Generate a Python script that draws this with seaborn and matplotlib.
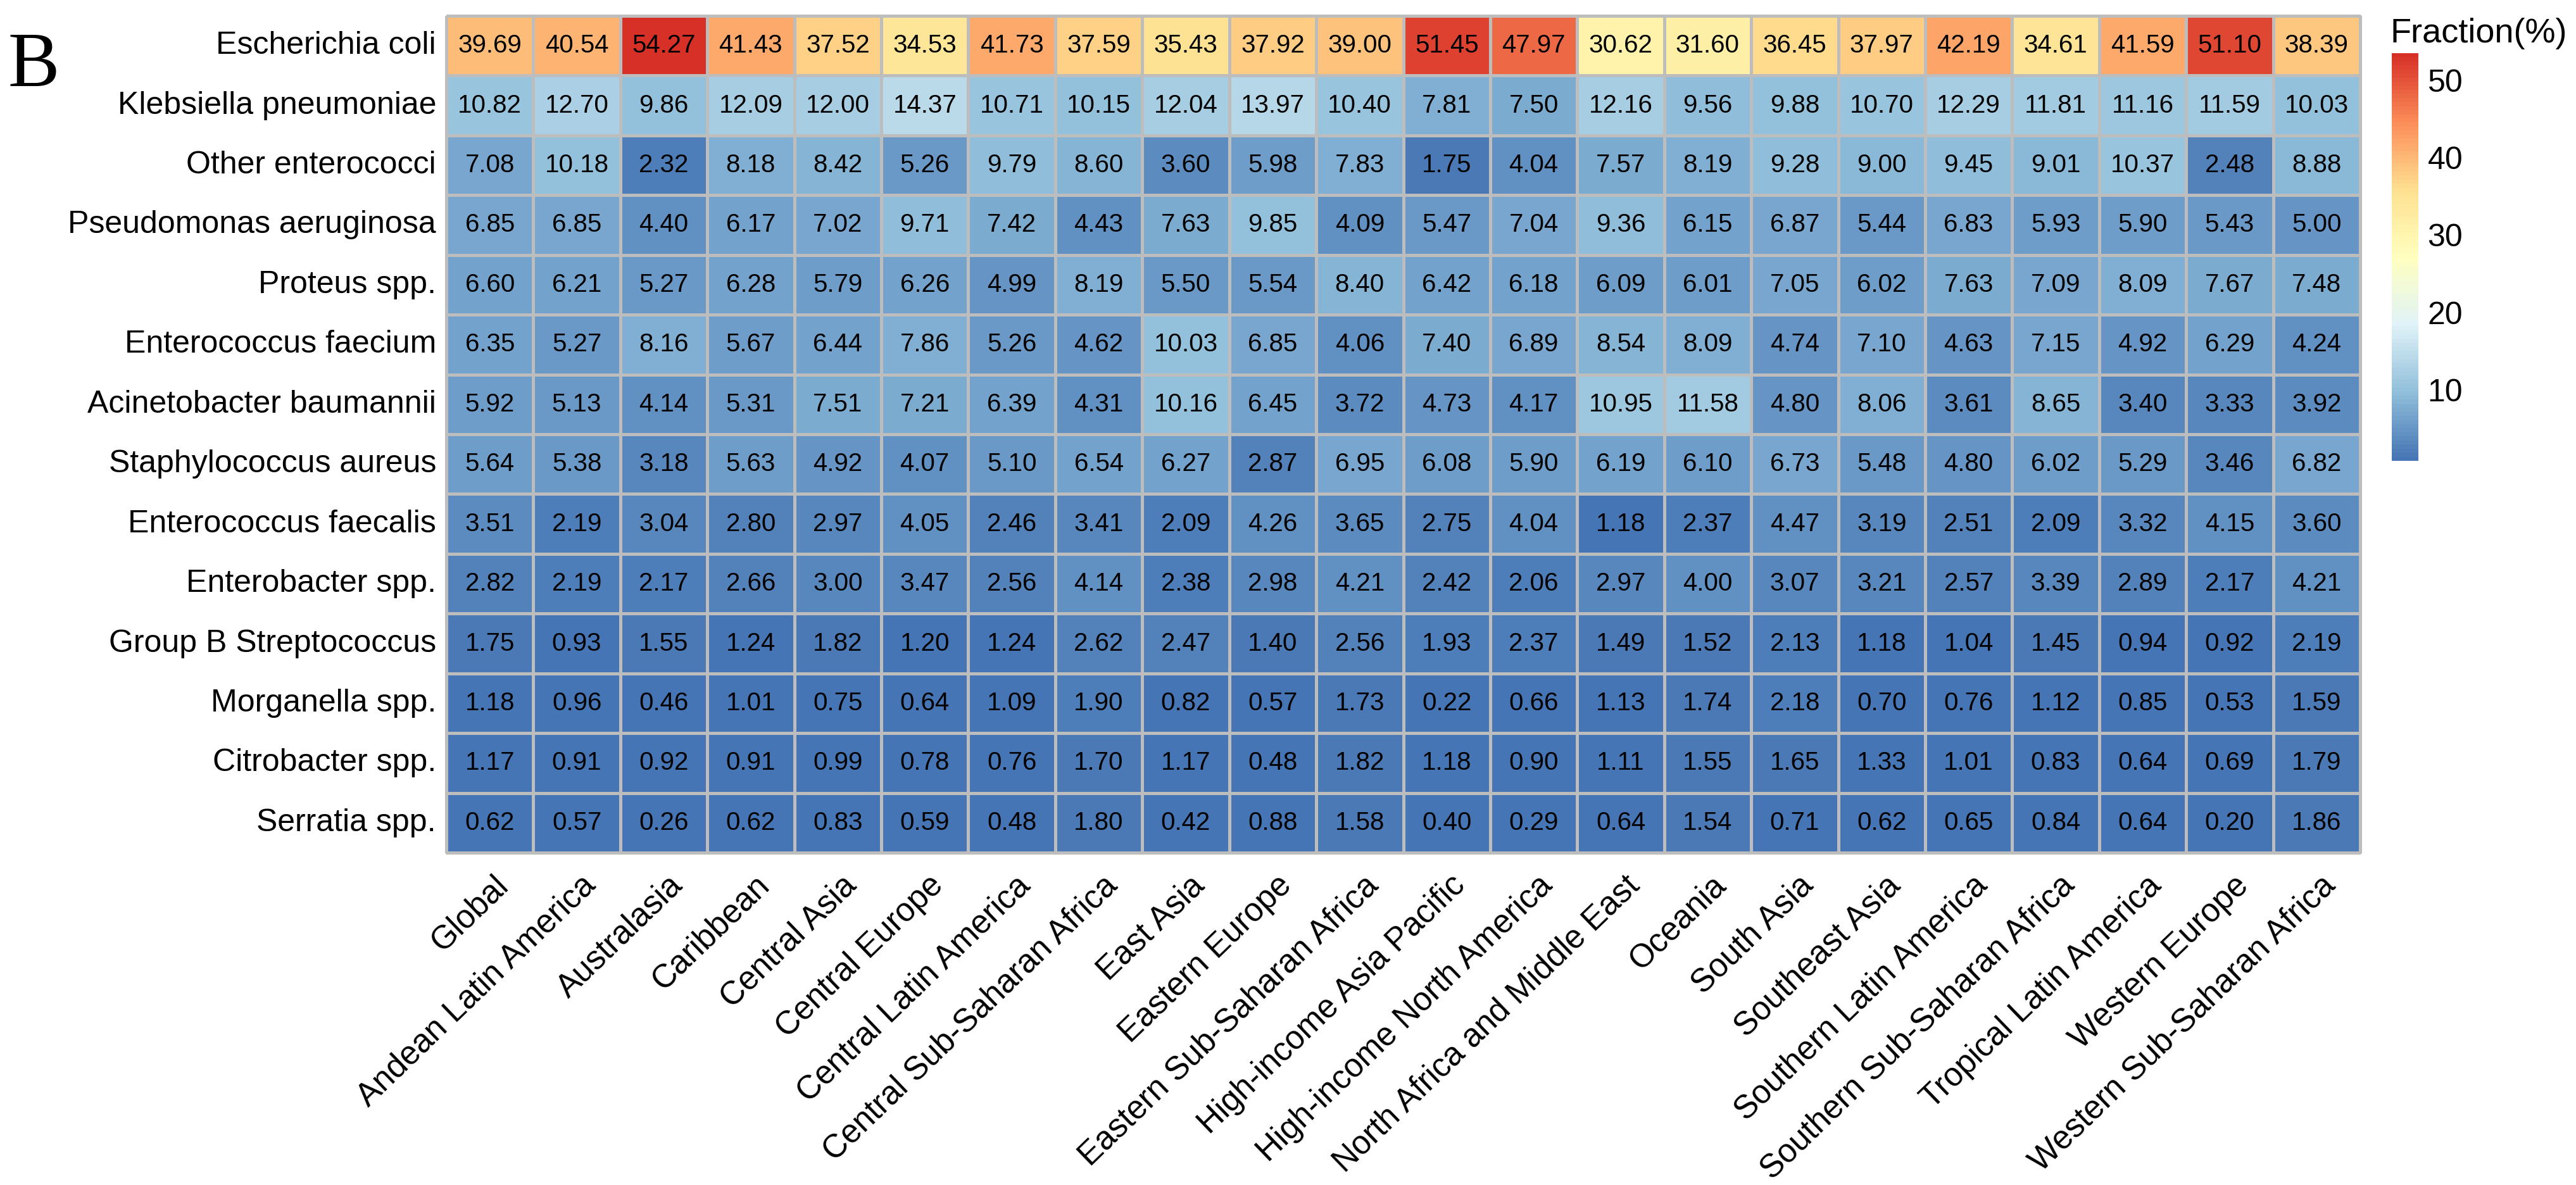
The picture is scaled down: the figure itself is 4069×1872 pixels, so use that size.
import numpy as np
import pandas as pd
import matplotlib
matplotlib.use('Agg')
import matplotlib.pyplot as plt
from matplotlib.colors import LinearSegmentedColormap
from matplotlib.transforms import ScaledTranslation
import seaborn as sns

# Data
regions = ['Global', 'Andean Latin America', 'Australasia', 'Caribbean', 'Central Asia',
           'Central Europe', 'Central Latin America', 'Central Sub-Saharan Africa', 'East Asia',
           'Eastern Europe', 'Eastern Sub-Saharan Africa', 'High-income Asia Pacific',
           'High-income North America', 'North Africa and Middle East', 'Oceania', 'South Asia',
           'Southeast Asia', 'Southern Latin America', 'Southern Sub-Saharan Africa',
           'Tropical Latin America', 'Western Europe', 'Western Sub-Saharan Africa']
pathogens = ['Escherichia coli', 'Klebsiella pneumoniae', 'Other enterococci',
             'Pseudomonas aeruginosa', 'Proteus spp.', 'Enterococcus faecium',
             'Acinetobacter baumannii', 'Staphylococcus aureus', 'Enterococcus faecalis',
             'Enterobacter spp.', 'Group B Streptococcus', 'Morganella spp.',
             'Citrobacter spp.', 'Serratia spp.']

e_coli = [39.69, 40.54, 54.27, 41.43, 37.52, 34.53, 41.73, 37.59, 35.43, 37.92, 39.00, 51.45, 47.97, 30.62, 31.60, 36.45, 37.97, 42.19, 34.61, 41.59, 51.10, 38.39]
klebsiella = [10.82, 12.70, 9.86, 12.09, 12.00, 14.37, 10.71, 10.15, 12.04, 13.97, 10.40, 7.81, 7.50, 12.16, 9.56, 9.88, 10.70, 12.29, 11.81, 11.16, 11.59, 10.03]
other_entero = [7.08, 10.18, 2.32, 8.18, 8.42, 5.26, 9.79, 8.60, 3.60, 5.98, 7.83, 1.75, 4.04, 7.57, 8.19, 9.28, 9.00, 9.45, 9.01, 10.37, 2.48, 8.88]
pseudomonas = [6.85, 6.85, 4.40, 6.17, 7.02, 9.71, 7.42, 4.43, 7.63, 9.85, 4.09, 5.47, 7.04, 9.36, 6.15, 6.87, 5.44, 6.83, 5.93, 5.90, 5.43, 5.00]
proteus = [6.60, 6.21, 5.27, 6.28, 5.79, 6.26, 4.99, 8.19, 5.50, 5.54, 8.40, 6.42, 6.18, 6.09, 6.01, 7.05, 6.02, 7.63, 7.09, 8.09, 7.67, 7.48]
e_faecium = [6.35, 5.27, 8.16, 5.67, 6.44, 7.86, 5.26, 4.62, 10.03, 6.85, 4.06, 7.40, 6.89, 8.54, 8.09, 4.74, 7.10, 4.63, 7.15, 4.92, 6.29, 4.24]
acinetobacter = [5.92, 5.13, 4.14, 5.31, 7.51, 7.21, 6.39, 4.31, 10.16, 6.45, 3.72, 4.73, 4.17, 10.95, 11.58, 4.80, 8.06, 3.61, 8.65, 3.40, 3.33, 3.92]
s_aureus = [5.64, 5.38, 3.18, 5.63, 4.92, 4.07, 5.10, 6.54, 6.27, 2.87, 6.95, 6.08, 5.90, 6.19, 6.10, 6.73, 5.48, 4.80, 6.02, 5.29, 3.46, 6.82]
e_faecalis = [3.51, 2.19, 3.04, 2.80, 2.97, 4.05, 2.46, 3.41, 2.09, 4.26, 3.65, 2.75, 4.04, 1.18, 2.37, 4.47, 3.19, 2.51, 2.09, 3.32, 4.15, 3.60]
enterobacter = [2.82, 2.19, 2.17, 2.66, 3.00, 3.47, 2.56, 4.14, 2.38, 2.98, 4.21, 2.42, 2.06, 2.97, 4.00, 3.07, 3.21, 2.57, 3.39, 2.89, 2.17, 4.21]
group_b = [1.75, 0.93, 1.55, 1.24, 1.82, 1.20, 1.24, 2.62, 2.47, 1.40, 2.56, 1.93, 2.37, 1.49, 1.52, 2.13, 1.18, 1.04, 1.45, 0.94, 0.92, 2.19]
morganella = [1.18, 0.96, 0.46, 1.01, 0.75, 0.64, 1.09, 1.90, 0.82, 0.57, 1.73, 0.22, 0.66, 1.13, 1.74, 2.18, 0.70, 0.76, 1.12, 0.85, 0.53, 1.59]
citrobacter = [1.17, 0.91, 0.92, 0.91, 0.99, 0.78, 0.76, 1.70, 1.17, 0.48, 1.82, 1.18, 0.90, 1.11, 1.55, 1.65, 1.33, 1.01, 0.83, 0.64, 0.69, 1.79]
serratia = [0.62, 0.57, 0.26, 0.62, 0.83, 0.59, 0.48, 1.80, 0.42, 0.88, 1.58, 0.40, 0.29, 0.64, 1.54, 0.71, 0.62, 0.65, 0.84, 0.64, 0.20, 1.86]

rows = [e_coli, klebsiella, other_entero, pseudomonas, proteus, e_faecium, acinetobacter,
        s_aureus, e_faecalis, enterobacter, group_b, morganella, citrobacter, serratia]
df = pd.DataFrame(rows, index=pathogens, columns=regions)

cbar_ticks = [10, 20, 30, 40, 50]

sns.set_style('white')
plt.rcParams['font.family'] = ['Liberation Sans', 'DejaVu Sans']

W, H = 4069, 1872
def px_axes(x0, y0, x1, y1):
    # pixel box (top-left origin) to figure fractions
    return [x0 / W, 1 - y1 / H, (x1 - x0) / W, (y1 - y0) / H]

fig = plt.figure(figsize=(W / 100, H / 100), dpi=100)
ax = fig.add_axes(px_axes(705, 25, 3728, 1347))
cax = fig.add_axes(px_axes(3778, 84, 3820, 728))

# same ramp as pheatmap's default
cmap = LinearSegmentedColormap.from_list(
    'rdylbu', ['#4575B4', '#91BFDB', '#E0F3F8', '#FFFFBF', '#FEE090', '#FC8D59', '#D73027'], N=100)

sns.heatmap(df, ax=ax, cbar_ax=cax, cmap=cmap, vmin=0.84, vmax=53.5,
            annot=True, fmt='.2f', annot_kws={'size': 29, 'color': 'black'},
            linewidths=2.2, linecolor='#BDBDBD', square=False,
            cbar_kws={'ticks': cbar_ticks})
ax.collections[0].set_clip_on(False)

ax.tick_params(axis='both', length=0)
ax.tick_params(axis='y', pad=11.5)
ax.set_yticklabels(pathogens, rotation=0, fontsize=36, color='black')
ax.set_xticklabels(regions, rotation=44, ha='right', va='top', rotation_mode='anchor',
                   fontsize=37, color='black')
shift = ScaledTranslation(3.6 / 72, -16 / 72, fig.dpi_scale_trans)
for lab in ax.get_xticklabels():
    lab.set_transform(lab.get_transform() + shift)

cb = ax.collections[0].colorbar
cb.outline.set_visible(False)
cb.ax.tick_params(length=0, pad=10.5, labelsize=36, labelcolor='black')

fig.text(3776 / W, 1 - 67 / H, 'Fraction(%)', fontsize=39, color='black', ha='left', va='baseline')
fig.text(12 / W, 1 - 136 / H, 'B', fontsize=88, family='Liberation Serif', color='black',
         ha='left', va='baseline')

fig.savefig('out.png', dpi=100)
